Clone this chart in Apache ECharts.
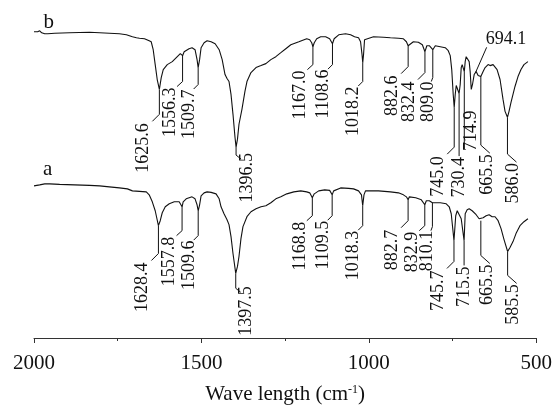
<!DOCTYPE html>
<html><head><meta charset="utf-8">
<script src="https://cdn.jsdelivr.net/npm/echarts@6/dist/echarts.min.js"></script>
<style>html,body{margin:0;padding:0;background:#fff}#c{width:555px;height:410px}</style>
</head><body><div id="c"></div>
<script>
// x tick labels (wavenumber, cm-1)
const xTicks = [2000, 1500, 1000, 500];

// Trace b (upper spectrum): [wavenumber, transmittance (arb.)]
const traceB = [[2000,308],[1995,309],[1989,308],[1983,309],[1977,307],[1968,306],[1959,306],[1938,306.5],[1894,307],[1834,307.5],[1804,307],[1775,306.5],[1745,306],[1724,305],[1706,303],[1694,302],[1685,301.5],[1670,301],[1656,299],[1650,298],[1644,290],[1638,275],[1632,260],[1625.6,250],[1620,262],[1614,270],[1602,275],[1587,278],[1572,283],[1563,286],[1556.3,284],[1551.5,288],[1537,291],[1528,292],[1519,290],[1513,280],[1509.7,272],[1505.4,280],[1501,292],[1492,297],[1483,299],[1471,298],[1459,296],[1447,290],[1438,280],[1429.5,265],[1423.5,261],[1417.6,258],[1411.6,245],[1405.7,225],[1399.7,202],[1396.5,192],[1392.3,200],[1387.8,215],[1379,230],[1370,248],[1364,258],[1352,267],[1337,272],[1322,274],[1307.5,276],[1292.6,280],[1277.7,283],[1262.8,287],[1248,291],[1233,295],[1209,298],[1185.5,301],[1176.5,300],[1170.6,297],[1167,293],[1163,297],[1155.7,301],[1143.8,303],[1129,303],[1117,301],[1108.6,296],[1103.6,301],[1090,305],[1069.4,306],[1054.5,305],[1042.6,303],[1030.7,302],[1024.7,298],[1020.3,285],[1018.2,277],[1015.8,285],[1012.8,300],[1006.9,302],[986,303],[956.3,302.5],[935.5,302],[911.6,301.5],[896.7,301],[887.8,298],[882.6,294],[878.9,296],[867,298],[852,297.5],[840.2,295],[832.4,288],[826.8,294],[819.4,294],[809,290],[801.5,294],[786.6,293],[771.8,292],[762.8,289],[756.9,284],[752.4,270],[748,245],[745,232],[742,245],[739,254],[734.6,252],[730.4,246],[727.1,255],[724.1,272],[721.2,275],[714.9,268],[712.2,278],[709.3,283],[704.8,282],[700.3,278],[697.4,268],[694.1,250],[689.9,256],[685.4,265],[679.5,268],[673.5,264],[665.5,263],[658.7,268],[652.7,272],[643.8,275],[637.8,274],[634.9,273],[628.9,275],[623,274],[617,270],[608.1,260],[599.2,240],[593.2,228],[586,222],[581.3,228],[575.4,237],[563.5,253],[554.5,263],[545.6,270],[536.7,275],[524.8,278]];

// Trace a (lower spectrum)
const traceA = [[2000,153],[1995,154],[1983,154],[1968,155],[1953,155],[1923.5,154.5],[1879,154],[1834,153.5],[1804,153],[1775,152],[1745,151],[1721,150],[1706,148],[1685,147.5],[1664.6,147],[1656,144],[1646.7,137],[1638,128],[1628.4,113],[1623,118],[1617,126],[1608,132],[1596,135],[1581,137],[1566.4,137],[1557.8,132],[1554.5,137],[1545.5,140],[1528,142],[1519,140],[1513,134],[1509.6,128],[1505.4,134],[1501,143],[1492,146],[1483,147],[1471,146.5],[1456.3,145],[1447,140],[1441.4,132],[1432.5,125],[1423.5,119],[1417.6,114],[1411.6,102],[1405.7,85],[1397.5,65],[1392.3,72],[1387.8,82],[1381.9,100],[1375.9,112],[1364,122],[1352,127],[1337,130],[1322,132],[1307.5,133],[1292.6,136],[1277.7,140],[1262.8,142],[1245,145],[1224,147],[1203.3,148],[1185.5,147],[1176.5,146],[1170.6,144],[1168.8,141],[1163,145],[1149.7,148],[1131.9,149],[1117,148.5],[1109.5,144],[1105.1,148],[1084.2,151],[1060.4,150.5],[1045.6,150],[1030.7,148],[1022,144],[1018.3,133],[1014.5,144],[1010,148],[1006.9,149],[971,148],[935.5,147],[911.6,146],[896.7,144],[887.8,142],[882.7,139],[878.9,142],[860,141],[843.2,139],[832.9,134],[828.3,138],[819.4,138],[810.1,136],[804.5,137],[786.6,136],[768.8,135],[759.9,132],[753.9,125],[745.7,98],[740.5,123],[736,128],[730.1,129],[724.1,120],[715.5,98],[712.2,125],[706.3,129],[700.3,130],[691.4,128],[679.5,124],[670.6,120],[665.5,118],[658.7,121],[649.7,123],[640.8,124],[631.8,122],[623,122],[613.9,118],[605.1,110],[596.2,99],[585.5,87],[578.4,91],[569.4,97],[560.5,105],[548.6,113],[536.7,117],[524.8,120]];

// Peak annotations: [label value, anchor wavenumber, leader end value, leader kind]
const peaksB = [
  [1625.6, 1625.6, 225, 'LL'],
  [1556.3, 1556.3, 258, 'LM'],
  [1509.7, 1509.7, 255, 'L'],
  [1396.5, 1396.5, 184, 'RR'],
  [1167.0, 1167.0, 275, 'LM'],
  [1108.6, 1108.6, 275, 'L'],
  [1018.2, 1018.2, 258, 'L'],
  [882.6, 882.6, 273, 'LL'],
  [832.4, 832.4, 267, 'LL'],
  [809.0, 809.0, 262, 'L0'],
  [745.0, 745.0, 192, 'LL'],
  [730.4, 730.4, 183, 'D'],
  [714.9, 714.9, 190, 'S'],
  [694.1, 681.0, null, 'T'],
  [665.5, 665.5, 194, 'R'],
  [586.0, 586.0, 185, 'R']
];
const peaksA = [
  [1628.4, 1628.4, 85, 'LL'],
  [1557.8, 1557.8, 108, 'LM'],
  [1509.6, 1509.6, 103, 'L'],
  [1397.5, 1397.5, 50, 'RR'],
  [1168.8, 1168.8, 123, 'LM'],
  [1109.5, 1109.5, 123, 'L'],
  [1018.3, 1018.3, 113, 'L'],
  [882.7, 882.7, 118, 'LL'],
  [832.9, 832.9, 113, 'LM'],
  [810.1, 810.1, 112, 'L0'],
  [745.7, 745.7, 77, 'LL'],
  [715.5, 715.5, 73, 'D'],
  [665.5, 665.5, 83, 'R'],
  [585.5, 585.5, 63, 'R']
];

// Trace names with their anchor points [wavenumber, value]
const traceNames = ['a', 'b'];
const namePos = [[1959, 170], [1956, 317]];

const INK = '#111';
const FONT = '"Liberation Serif", "Times New Roman", serif';

const LAYOUT = {
  L0: {diag: [-1.5, 4], text: [-5, 4]},
  L:  {diag: [-4.5, 4.5], text: [-9, 5]},
  LM: {diag: [-5.5, 5], text: [-12.5, 6]},
  LL: {diag: [-7, 7], text: [-16, 9]},
  R:  {diag: [9, 8], text: [6, 9]},
  RR: {diag: [5, 4], text: [11, -2]},
  D:  {diag: null, text: [0, 1]},
  S:  {diag: null, text: [7, 2], up: true},
  T:  {tip: [11, -25], text: [10, -33], horiz: true}
};

function interp(trace, w) {
  for (let i = 0; i < trace.length - 1; i++) {
    const w0 = trace[i][0], v0 = trace[i][1], w1 = trace[i + 1][0], v1 = trace[i + 1][1];
    if (w <= w0 && w >= w1) {
      const t = (w0 - w) / ((w0 - w1) || 1);
      return v0 + (v1 - v0) * t;
    }
  }
  return trace[trace.length - 1][1];
}

function annoSeries(peaks, trace) {
  return {
    type: 'custom',
    coordinateSystem: 'cartesian2d',
    silent: true,
    z: 5,
    data: peaks.map(p => [p[1], interp(trace, p[1])]),
    renderItem: function (params, api) {
      const p = peaks[params.dataIndex];
      const lay = LAYOUT[p[3]];
      const top = api.coord([p[1], interp(trace, p[1])]);
      const txt = p[0].toFixed(1);
      const children = [];
      const ts = {text: txt, fill: INK, fontSize: 18, fontFamily: FONT};
      if (lay.horiz) {
        const tip = [top[0] + lay.tip[0], top[1] + lay.tip[1]];
        children.push({type: 'polyline', shape: {points: [top, tip]}, style: {stroke: INK, lineWidth: 1, fill: null}});
        children.push({type: 'text', x: top[0] + lay.text[0], y: top[1] + lay.text[1],
          style: Object.assign({align: 'left', verticalAlign: 'middle'}, ts)});
      } else {
        const bend = api.coord([p[1], p[2]]);
        const pts = [top, bend];
        if (lay.diag) pts.push([bend[0] + lay.diag[0], bend[1] + lay.diag[1]]);
        children.push({type: 'polyline', shape: {points: pts}, style: {stroke: INK, lineWidth: 1, fill: null}});
        children.push({type: 'text', x: bend[0] + lay.text[0], y: bend[1] + lay.text[1], rotation: Math.PI / 2,
          style: Object.assign({align: lay.up ? 'left' : 'right', verticalAlign: 'middle'}, ts)});
      }
      return {type: 'group', children: children};
    }
  };
}

function lineSeries(name, trace, idx) {
  return {
    name: name, type: 'line', data: trace, showSymbol: false, symbol: 'none',
    lineStyle: {color: INK, width: 1.1}, z: 3, animation: false,
    markPoint: {
      symbol: 'circle', symbolSize: 0, silent: true, animation: false,
      label: {show: true, position: 'inside', formatter: name, color: INK, fontSize: 21, fontFamily: FONT},
      data: [{coord: namePos[idx], value: name}]
    }
  };
}

const chart = echarts.init(document.getElementById('c'), null, {renderer: 'canvas'});
chart.setOption({
  animation: false,
  backgroundColor: '#fff',
  grid: {left: 34, right: 17, top: 0, bottom: 70},
  xAxis: {
    type: 'value', inverse: true, min: 500, max: 2000, interval: 500,
    name: '{t|Wave length (cm}{s|-1}{t|)}',
    nameLocation: 'middle', nameGap: 46,
    nameTextStyle: {
      rich: {
        t: {fontSize: 21, fontFamily: FONT, color: INK},
        s: {fontSize: 12, fontFamily: FONT, color: INK, verticalAlign: 'top'}
      }
    },
    axisLine: {show: true, lineStyle: {color: '#333', width: 1}},
    axisTick: {show: true, inside: false, length: 5, lineStyle: {color: '#333'}},
    minorTick: {show: true, splitNumber: 2, length: 3, lineStyle: {color: '#333'}},
    splitLine: {show: false},
    axisLabel: {
      color: INK, fontSize: 21, fontFamily: FONT, margin: 15,
      formatter: v => xTicks.indexOf(v) >= 0 ? String(v) : ''
    }
  },
  yAxis: {type: 'value', min: 0, max: 340, show: false},
  series: [
    lineSeries(traceNames[0], traceA, 0),
    lineSeries(traceNames[1], traceB, 1),
    annoSeries(peaksA, traceA),
    annoSeries(peaksB, traceB)
  ]
});
</script></body></html>
